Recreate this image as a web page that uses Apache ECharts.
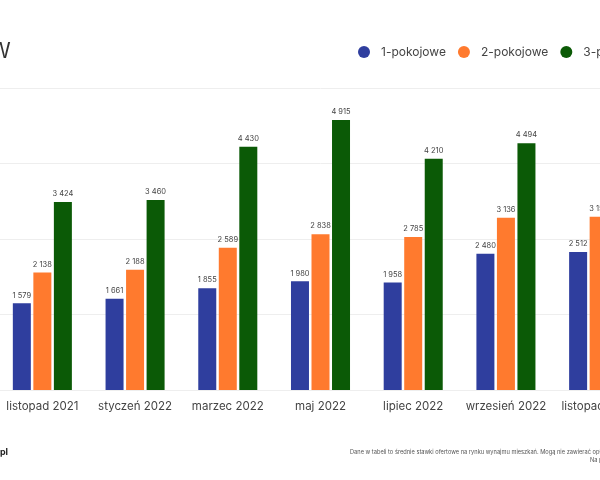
<!DOCTYPE html>
<html>
<head>
<meta charset="utf-8">
<script src="https://cdn.jsdelivr.net/npm/echarts@6/dist/echarts.min.js"></script>
<style>
    html, body { margin: 0; padding: 0; width: 600px; height: 480px; overflow: hidden; background: #fff; }
    /* chart is wider than the window, the picture is a crop of it */
    #chart { position: absolute; left: -20px; top: 0; width: 720px; height: 480px; }
</style>
</head>
<body>
<div id="chart"></div>
<script>
// data
const categories = ["listopad 2021", "styczeń 2022", "marzec 2022", "maj 2022", "lipiec 2022", "wrzesień 2022", "listopad 2022"];
const pokoj1 = [1579, 1661, 1855, 1980, 1958, 2480, 2512];
const pokoj2 = [2138, 2188, 2589, 2838, 2785, 3136, 3155];
const pokoj3 = [3424, 3460, 4430, 4915, 4210, 4494, 4400];
const seriesNames = ["1-pokojowe", "2-pokojowe", "3-pokojowe"];

const colors = ["#2f3e9e", "#ff7a2e", "#0b5a06"];

function fmt(v) {
    return String(v).replace(/\B(?=(\d{3})+(?!\d))/g, " ");
}

const chart = echarts.init(document.getElementById("chart"));

function makeSeries(name, values, color) {
    return {
        name: name,
        type: "bar",
        data: values,
        barWidth: 18,
        barGap: "14%",
        itemStyle: { color: color },
        label: {
            show: true,
            position: "top",
            distance: 4,
            fontSize: 7.5,
            color: "#444",
            fontFamily: "Inter",
            formatter: p => fmt(p.value)
        }
    };
}

chart.setOption({
    animation: false,
    title: {
        text: "W",
        left: 5,
        top: 36,
        textStyle: { fontSize: 21, fontWeight: "normal", color: "#333", fontFamily: "Inter" }
    },
    legend: {
        data: seriesNames,
        left: 373,
        top: 41,
        icon: "circle",
        itemWidth: 12,
        itemHeight: 12,
        itemGap: 12,
        textStyle: { fontSize: 12, color: "#444", fontFamily: "Inter", padding: [0, 0, 0, 6] }
    },
    grid: { left: 16, width: 649, top: 88, height: 302, containLabel: false },
    xAxis: {
        type: "category",
        data: categories,
        axisLine: { show: true, lineStyle: { color: "#eeeeee" } },
        axisTick: { show: false },
        axisLabel: { interval: 0, fontSize: 11.5, color: "#444", fontFamily: "Inter", margin: 11 }
    },
    yAxis: {
        type: "value",
        min: 0,
        max: 5500,
        interval: 1375,
        axisLabel: { show: false },
        axisLine: { show: false },
        axisTick: { show: false },
        splitLine: { lineStyle: { color: "#eeeeee" } }
    },
    graphic: [
        {
            type: "text",
            x: 28,
            y: 448,
            style: { text: "otodom.pl", align: "right", fontSize: 9, fontWeight: "bold", fill: "#222", fontFamily: "Inter" }
        },
        {
            type: "text",
            x: 370,
            y: 449,
            style: {
                text: "Dane w tabeli to średnie stawki ofertowe na rynku wynajmu mieszkań. Mogą nie zawierać opłat za media.",
                fontSize: 5.7, fill: "#555", fontFamily: "Inter"
            }
        },
        {
            type: "text",
            x: 610,
            y: 457,
            style: { text: "Na podstawie ofert", fontSize: 5.7, fill: "#555", fontFamily: "Inter" }
        }
    ],
    series: [
        makeSeries(seriesNames[0], pokoj1, colors[0]),
        makeSeries(seriesNames[1], pokoj2, colors[1]),
        makeSeries(seriesNames[2], pokoj3, colors[2])
    ]
});
</script>
</body>
</html>
